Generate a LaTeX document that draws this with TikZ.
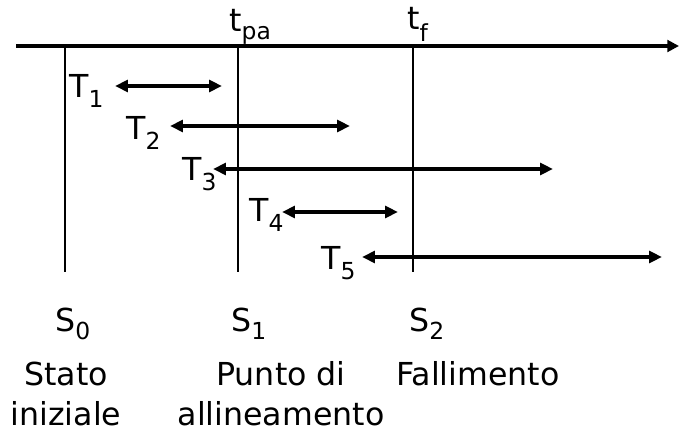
\documentclass[tikz,border=0pt]{standalone}
\usepackage{fontspec}
\setmainfont{DejaVu Sans}
\usetikzlibrary{arrows.meta}

% pedice abbassato
\newcommand{\pedice}[2][-8pt]{\raisebox{#1}{\fontsize{20}{20}\selectfont #2}}

\begin{document}
\begin{tikzpicture}[x=0.03cm, y=-0.03cm, font=\fontsize{27}{34}\selectfont]

        % Stili globali
        \tikzset{
          asse/.style={line width=3pt, -{Triangle[length=10pt, width=10pt]}},
          istante/.style={line width=1.2pt},
          intervallo/.style={line width=2.6pt, {Triangle[length=11pt, width=10pt]}-{Triangle[length=11pt, width=10pt]}},
          etichetta/.style={inner sep=0pt, anchor=base west},
          descr/.style={inner sep=0pt, anchor=base, align=center}
        }

        \useasboundingbox (0,0) rectangle (679,432);

        % Asse dei tempi
        \coordinate (inizio) at (16,46);
        \coordinate (fine) at (679,46);
        \draw[asse] (inizio) -- (fine);

        % Linee verticali degli stati
        \coordinate (s0a) at (65,46);  \coordinate (s0b) at (65,272);
        \coordinate (s1a) at (238,46); \coordinate (s1b) at (238,272);
        \coordinate (s2a) at (413,46); \coordinate (s2b) at (413,272);
        \draw[istante] (s0a) -- (s0b);
        \draw[istante] (s1a) -- (s1b);
        \draw[istante] (s2a) -- (s2b);

        % Istanti sopra l'asse
        \node[etichetta] (tpa) at (229,32) {t\pedice[-6pt]{pa}};
        \node[etichetta] (tf) at (407,30) {t\pedice[-10pt]{f}};

        % Transazioni T1 ... T5
        \node[etichetta] (T1) at (69,98) {T\pedice{1}};
        \coordinate (T1a) at (115,86); \coordinate (T1b) at (222,86);
        \draw[intervallo] (T1a) -- (T1b);

        \node[etichetta] (T2) at (126,140) {T\pedice{2}};
        \coordinate (T2a) at (170,126); \coordinate (T2b) at (350,126);
        \draw[intervallo] (T2a) -- (T2b);

        \node[etichetta] (T3) at (182,181) {T\pedice{3}};
        \coordinate (T3a) at (213,169); \coordinate (T3b) at (553,169);
        \draw[intervallo] (T3a) -- (T3b);

        \node[etichetta] (T4) at (249,222) {T\pedice{4}};
        \coordinate (T4a) at (282,212); \coordinate (T4b) at (398,212);
        \draw[intervallo] (T4a) -- (T4b);

        \node[etichetta] (T5) at (321,270) {T\pedice{5}};
        \coordinate (T5a) at (362,257); \coordinate (T5b) at (662,257);
        \draw[intervallo] (T5a) -- (T5b);

        % Stati in basso
        \node[etichetta] (S0) at (55,331) {S\pedice[-7pt]{0}};
        \node[etichetta] (S1) at (231,331) {S\pedice[-7pt]{1}};
        \node[etichetta] (S2) at (409,331) {S\pedice[-7pt]{2}};

        % Descrizioni degli stati
        \node[descr] (d0) at (66,425) {Stato\\iniziale};
        \node[descr] (d1) at (281,425) {Punto di\\allineamento};
        \node[descr] (d2) at (478,385) {Fallimento};

\end{tikzpicture}
\end{document}
